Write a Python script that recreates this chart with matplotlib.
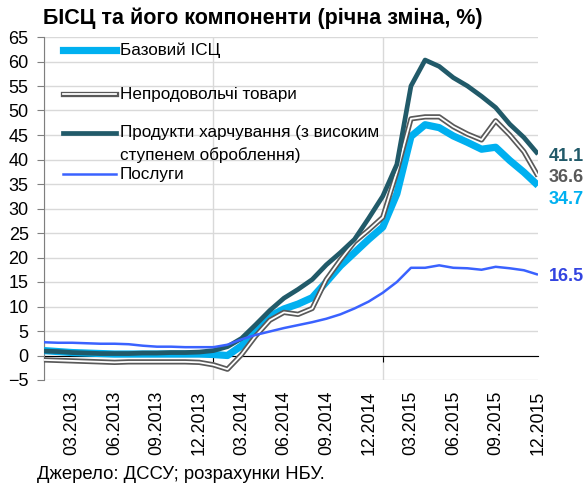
import numpy as np
import matplotlib.pyplot as plt
from matplotlib.lines import Line2D

plt.rcParams['font.family'] = ['Liberation Sans', 'DejaVu Sans']

# щомісячні дані, 01.2013 - 12.2015, річна зміна, %
core = [1.0, 0.8, 0.6, 0.5, 0.4, 0.3, 0.3, 0.3, 0.3, 0.3, 0.3, 0.3,
        0.2, 0.0, 2.0, 5.2, 8.0, 9.5, 10.5, 11.8, 15.0, 18.3, 21.0, 23.7,
        26.2, 33.0, 44.7, 47.1, 46.5, 44.8, 43.5, 42.1, 42.5, 39.8, 37.4, 34.7]
nonfood = [-0.9, -1.0, -1.1, -1.2, -1.3, -1.4, -1.3, -1.3, -1.3, -1.3, -1.3, -1.4,
           -1.9, -2.8, 0.2, 4.0, 7.2, 8.8, 8.4, 9.6, 15.5, 19.5, 23.2, 25.6,
           28.2, 37.5, 48.3, 48.7, 48.7, 46.7, 45.2, 44.0, 47.9, 45.0, 41.6, 36.6]
food = [0.9, 0.8, 0.6, 0.5, 0.4, 0.4, 0.4, 0.5, 0.5, 0.6, 0.6, 0.7,
        1.0, 1.8, 3.5, 6.3, 9.2, 11.7, 13.5, 15.5, 18.5, 21.0, 23.7, 28.0,
        32.5, 39.0, 55.0, 60.3, 59.0, 56.7, 55.0, 52.9, 50.6, 47.2, 44.5, 41.1]
services = [2.7, 2.6, 2.6, 2.5, 2.4, 2.4, 2.3, 2.0, 1.8, 1.8, 1.7, 1.7,
            1.7, 2.2, 3.3, 4.2, 4.9, 5.6, 6.2, 6.8, 7.5, 8.4, 9.6, 11.0,
            12.8, 15.0, 17.9, 17.9, 18.4, 17.9, 17.8, 17.5, 18.1, 17.8, 17.4, 16.5]

tick_pos = [2, 5, 8, 11, 14, 17, 20, 23, 26, 29, 32, 35]
tick_labels = ['03.2013', '06.2013', '09.2013', '12.2013',
               '03.2014', '06.2014', '09.2014', '12.2014',
               '03.2015', '06.2015', '09.2015', '12.2015']

c_core = '#00B0F0'
c_food = '#215A69'
c_nonfood = '#595959'
c_serv = '#3A62FF'

x = np.arange(len(core))

fig = plt.figure(figsize=(5.87, 4.86), dpi=100)
ax = fig.add_axes([44/587, 1 - 380/486, 494/587, 343/486])

ax.plot(x, core, color=c_core, lw=5.2, zorder=3, solid_capstyle='butt')
ax.plot(x, nonfood, color=c_nonfood, lw=3.8, zorder=4, solid_capstyle='butt')
ax.plot(x, nonfood, color='white', lw=1.3, zorder=4.1, solid_capstyle='butt')
ax.plot(x, food, color=c_food, lw=3.4, zorder=5, solid_capstyle='butt')
ax.plot(x, services, color=c_serv, lw=1.8, zorder=6, solid_capstyle='butt')

ax.set_xlim(0, 35)
ax.set_ylim(-5, 65)
ax.set_yticks(range(-5, 70, 5))
ax.set_xticks([0, 12, 24])
ax.set_axisbelow(True)
ax.grid(True, color='#D9D9D9', lw=1)

for s in ['top', 'right']:
    ax.spines[s].set_visible(False)
ax.spines['left'].set_color('#7F7F7F')
ax.spines['bottom'].set_position(('data', 0))
ax.spines['bottom'].set_color('black')
ax.spines['bottom'].set_zorder(2)
ax.tick_params(axis='x', length=4, color='black', labelbottom=False)
ax.tick_params(axis='y', length=5, color='#7F7F7F', pad=6, labelsize=13)

sec = ax.secondary_xaxis('bottom')
sec.set_xticks(tick_pos, tick_labels, rotation=90)
sec.tick_params(length=0, pad=8, labelsize=12.8)
sec.spines['bottom'].set_visible(False)

# легенда
legend_items = [
    ([(c_core, 5.2)], 'Базовий ІСЦ', 50),
    ([(c_nonfood, 3.8), ('white', 1.3)], 'Непродовольчі товари', 94),
    ([(c_food, 3.4)], 'Продукти харчування (з високим', 133),
    ([], 'ступенем оброблення)', 155),
    ([(c_serv, 1.8)], 'Послуги', 174),
]
for styles, label, py in legend_items:
    yf = 1 - (py - 37) / 343
    for col, lw in styles:
        ax.add_line(Line2D([0.038, 0.145], [yf, yf], color=col, lw=lw,
                           transform=ax.transAxes, zorder=7))
    ax.text(0.154, yf, label, transform=ax.transAxes, fontsize=12.3,
            va='center', ha='left', zorder=7)

# підписи останніх значень
end_labels = [(food, c_food, -2), (nonfood, c_nonfood, -1),
              (core, c_core, -10), (services, '#3344E0', -1)]
for series, col, dy in end_labels:
    ax.annotate(f'{series[-1]:.1f}', xy=(x[-1], series[-1]),
                xytext=(8, dy), textcoords='offset points',
                color=col, fontsize=13, fontweight='bold',
                va='center', ha='left', annotation_clip=False)

fig.text(43/587, 1 - 18/486, 'БІСЦ та його компоненти (річна зміна, %)',
         fontsize=15.5, fontweight='bold', va='center', ha='left')
fig.text(37/587, 1 - 474/486, 'Джерело: ДССУ; розрахунки НБУ.',
         fontsize=13.3, va='center', ha='left')

fig.savefig('out.png', dpi=100)
